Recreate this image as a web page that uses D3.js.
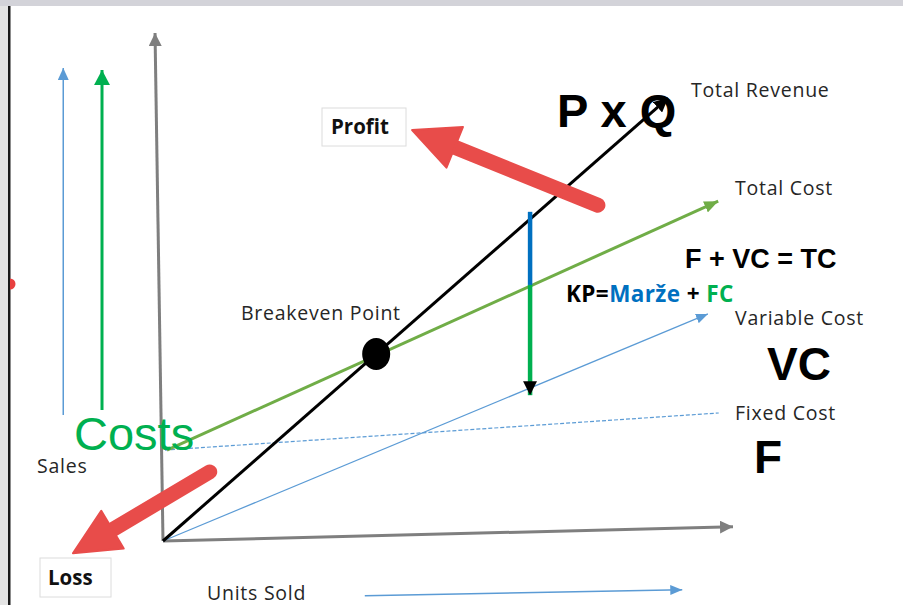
<!DOCTYPE html>
<html><head><meta charset="utf-8">
<script src="https://cdn.jsdelivr.net/npm/d3@7"></script>
<style>html,body{margin:0;padding:0;background:#fff;overflow:hidden}</style>
</head><body>
<script>
// ---- data (units sold u, money v, both 0..100 scale) ----
const axisY = [[0,0],[-1.4,100]];
const axisX = [[0,0],[100,2.8]];
const totalRevenue = [[0,0],[88.6,87.2]];
const totalCost = [[0.7,17.9],[97.4,66.9]];
const variableCost = [[0,0],[95.6,44.7]];
const fixedCost = [[0.35,17.9],[97.5,25.2]];
const breakeven = [37.4,36.8];
const marginBlue = [[64.4,64.8],[64.4,50.4]];
const marginGreen = [[64.4,50.4],[64.4,28.7]];
const salesArrow = [[-17.5,24.8],[-17.5,93.1]];
const costsArrow = [[-10.7,25.8],[-10.7,92.7]];
const unitsArrow = [[35.4,-10.8],[91.1,-9.6]];
const profitArrow = [[76.3,66.1],[43.7,80.9]];
const lossArrow = [[8.2,13.6],[-15.8,-2.4]];
const lineLabels = ["Total Revenue","Total Cost","Variable Cost","Fixed Cost"];
const lineSymbols = ["P x Q","F + VC = TC","VC","F"];

const W=903,H=605;
const x=d3.scaleLinear().domain([0,100]).range([163,733]);
const y=d3.scaleLinear().domain([0,100]).range([541,33]);
const svg=d3.select("body").append("svg").attr("width",W).attr("height",H);
const defs=svg.append("defs");
function marker(id,color,len,wid){
  defs.append("marker").attr("id",id).attr("markerUnits","userSpaceOnUse")
   .attr("viewBox",`0 0 ${len} ${wid}`).attr("refX",len).attr("refY",wid/2)
   .attr("markerWidth",len).attr("markerHeight",wid).attr("orient","auto")
   .append("path").attr("d",`M0,0L${len},${wid/2}L0,${wid}Z`).attr("fill",color);
}
marker("mGray","#7f7f7f",13,13);
marker("mBlue","#5b9bd5",12,11);
marker("mBlueS","#5b9bd5",12,10);
marker("mGreen","#00b050",15,16);
marker("mTC","#70ad47",14,12);
marker("mBlack","#000",14,14);

// frame
svg.append("rect").attr("x",0).attr("y",0).attr("width",W).attr("height",6).attr("fill","#d3d3d9");
svg.append("rect").attr("x",0).attr("y",6).attr("width",8).attr("height",H).attr("fill","#e4e4e4");
svg.append("rect").attr("x",8).attr("y",6).attr("width",2.5).attr("height",H).attr("fill","#1a1a1a");
svg.append("path").attr("d",d3.arc()({innerRadius:0,outerRadius:5.5,startAngle:0,endAngle:Math.PI}))
  .attr("transform","translate(10,284)").attr("fill","#e8403f");

const line=d3.line().x(d=>x(d[0])).y(d=>y(d[1]));
function draw(data,color,w,mk,dash){
  const p=svg.append("path").datum(data).attr("d",line).attr("stroke",color)
    .attr("stroke-width",w).attr("fill","none");
  if(mk)p.attr("marker-end",`url(#${mk})`);
  if(dash)p.attr("stroke-dasharray",dash);
  return p;
}
draw(axisY,"#7f7f7f",3,"mGray");
draw(axisX,"#7f7f7f",3,"mGray");
draw(salesArrow,"#5b9bd5",1.5,"mBlue");
draw(costsArrow,"#00b050",3,"mGreen");
draw(unitsArrow,"#5b9bd5",1.5,"mBlueS");
draw(fixedCost,"#5b9bd5",1.2,null,"4,2");
draw(variableCost,"#5b9bd5",1.2,"mBlueS");
draw(totalCost,"#70ad47",3,"mTC");
draw(totalRevenue,"#000",3,"mBlack");
draw(marginBlue,"#0070c0",4.5);
draw(marginGreen,"#00b050",4.5,"mBlack");

svg.append("ellipse").attr("cx",x(breakeven[0])).attr("cy",y(breakeven[1]))
  .attr("rx",14).attr("ry",16).attr("fill","#000");

// red arrows
function redArrow(a){
  const S=[x(a[0][0]),y(a[0][1])],T=[x(a[1][0]),y(a[1][1])];
  const dx=T[0]-S[0],dy=T[1]-S[1],len=Math.hypot(dx,dy);
  const d=[dx/len,dy/len],n=[-d[1],d[0]];
  const L=46,Hw=44;
  const B=[T[0]-d[0]*L,T[1]-d[1]*L];
  const g=svg.append("g");
  g.append("line").attr("x1",S[0]).attr("y1",S[1]).attr("x2",B[0]+d[0]*4).attr("y2",B[1]+d[1]*4)
    .attr("stroke","#e84c4a").attr("stroke-width",15).attr("stroke-linecap","round");
  g.append("path").attr("d",`M${T}L${B[0]+n[0]*Hw/2},${B[1]+n[1]*Hw/2}L${B[0]-n[0]*Hw/2},${B[1]-n[1]*Hw/2}Z`)
    .attr("fill","#e84c4a").attr("stroke","#e84c4a").attr("stroke-width",2).attr("stroke-linejoin","round");
}
redArrow(profitArrow);
redArrow(lossArrow);

// boxes
svg.append("rect").attr("x",322).attr("y",108).attr("width",84).attr("height",38)
  .attr("fill","#fff").attr("stroke","#dcdcdc");
svg.append("rect").attr("x",40).attr("y",558).attr("width",71).attr("height",39)
  .attr("fill","#fff").attr("stroke","#dcdcdc");

const sans="'Open Sans',sans-serif";
const arial="'Liberation Sans',Arial,sans-serif";
function txt(s,px,py,size,opts={}){
  return svg.append("text").attr("x",px).attr("y",py).text(s)
   .attr("font-family",opts.font||sans).attr("font-size",size)
   .attr("letter-spacing",opts.ls||0)
   .attr("font-weight",opts.bold?"bold":"normal").attr("fill",opts.color||"#262626");
}
txt("Profit",331,134,20.5,{bold:true,color:"#111"});
txt("Loss",48,585,20.5,{bold:true,color:"#111"});
const lab={ls:0.75};
txt(lineLabels[0],691,97,19.5,lab);
txt(lineLabels[1],735,195,19.5,lab);
txt(lineLabels[2],735,325,19.5,lab);
txt(lineLabels[3],735,420,19.5,lab);
txt("Breakeven Point",241,320,19.5,lab);
txt("Units Sold",207,600,19.5,lab);
txt("Sales",37,473,19.5,lab);
txt("Costs",74,450,47,{font:arial,color:"#00b050"});
txt(lineSymbols[0],557,127,47,{font:arial,bold:true,color:"#000"});
txt(lineSymbols[1],685,268,27,{font:arial,bold:true,color:"#000"});
txt(lineSymbols[2],767,380,46,{font:arial,bold:true,color:"#000"});
txt(lineSymbols[3],754,473,46,{font:arial,bold:true,color:"#000"});
const kp=svg.append("text").attr("x",566).attr("y",302).attr("font-family",sans)
  .attr("font-size",22.5).attr("letter-spacing",0.4).attr("font-weight","bold");
kp.append("tspan").text("KP=").attr("fill","#000");
kp.append("tspan").text("Marže").attr("fill","#0070c0");
kp.append("tspan").text(" + ").attr("fill","#000");
kp.append("tspan").text("FC").attr("fill","#00b050");
</script>
</body></html>
